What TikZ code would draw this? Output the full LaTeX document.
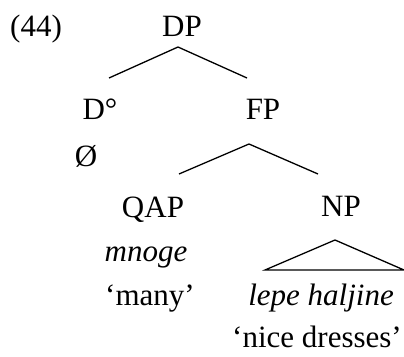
\documentclass[tikz,border=0pt]{standalone}
\usepackage{fontspec}
\setmainfont{Liberation Serif}
\usepackage{tikz}

\tikzset{
    word/.style = {anchor = base, inner sep = 0pt, font = {\fontsize{31}{36}\selectfont}, black},
    branch/.style = {line width = 1.3pt, black}
}

\begin{document}
\begin{tikzpicture}[x = 1pt, y = -1pt]
        \useasboundingbox (0, 0) rectangle (404, 356);

        % example number and root
        \node[word, anchor = base west] (num) at (10, 36) {(44)};
        \node[word] (dp) at (182, 36) {DP};

        % second level
        \node[word] (d) at (100, 119) {D\textdegree};
        \node[word] (fp) at (263, 119) {FP};
        \node[word] (null) at (86, 166) {Ø};

        % third level
        \node[word] (qap) at (153, 217) {QAP};
        \node[word] (np) at (341, 216) {NP};

        % words and glosses
        \node[word] (mnoge) at (146, 261) {\itshape mnoge};
        \node[word] (many) at (150, 305) {`many'};
        \node[word] (lepe) at (321, 305) {\itshape lepe haljine};
        \node[word] (dresses) at (317, 347) {`nice dresses'};

        % branches
        \coordinate (dp-top) at (178, 47);
        \coordinate (dp-left) at (109, 78);
        \coordinate (dp-right) at (247, 78);
        \draw[branch] (dp-left) -- (dp-top) -- (dp-right);

        \coordinate (fp-top) at (249, 144);
        \coordinate (fp-left) at (179, 174);
        \coordinate (fp-right) at (318, 174);
        \draw[branch] (fp-left) -- (fp-top) -- (fp-right);

        % roof over the NP
        \coordinate (np-top) at (335, 240);
        \coordinate (np-left) at (265, 270);
        \coordinate (np-right) at (404, 270);
        \draw[branch, line join = miter] (np-left) -- (np-top) -- (np-right) -- cycle;

    \end{tikzpicture}
\end{document}
